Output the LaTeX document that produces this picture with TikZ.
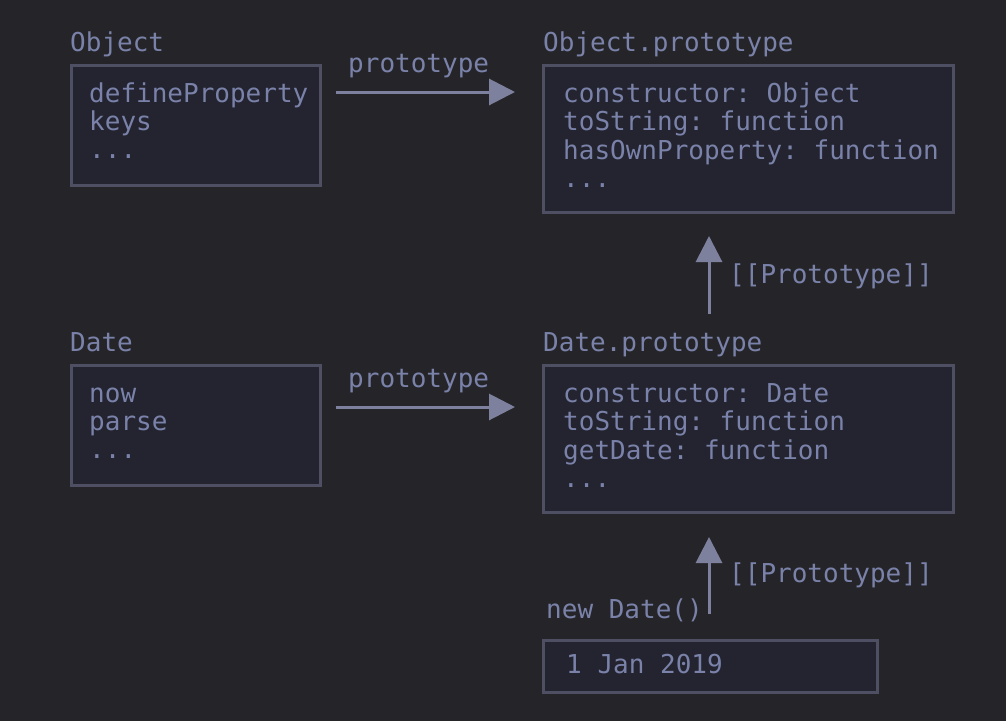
\documentclass[tikz,border=0pt]{standalone}
\usepackage{fontspec}
\setmonofont{DejaVu Sans Mono}
\usetikzlibrary{arrows.meta}
\definecolor{bg}{HTML}{252529}
\definecolor{boxfill}{HTML}{23242F}
\definecolor{boxline}{HTML}{4E4F63}
\definecolor{txt}{HTML}{7A82AA}
\definecolor{arrowc}{HTML}{7E819E}
\tikzset{
  box/.style={draw=boxline, fill=boxfill, line width=3pt, rectangle, anchor=north west, inner sep=0pt, outer sep=0pt},
  lbl/.style={anchor=base west, inner sep=0pt, text=txt, font=\fontsize{26}{28}\selectfont\ttfamily},
  arr/.style={draw=arrowc, line width=3pt, -{Triangle[length=26pt,width=26pt]}}
}
\begin{document}
\begin{tikzpicture}[x=1pt,y=-1pt]
\fill[bg] (0,0) rectangle (1006,721);
\useasboundingbox (0,0) rectangle (1006,721);
% boxes
\node[box, minimum width=249.5pt, minimum height=120pt] (obj) at (71,65.5) {};
\node[box, minimum width=410.5pt, minimum height=147pt] (op) at (543,65.5) {};
\node[box, minimum width=249.5pt, minimum height=120pt] (dt) at (71,365.5) {};
\node[box, minimum width=410.5pt, minimum height=147pt] (dp) at (543,365.5) {};
\node[box, minimum width=333.5pt, minimum height=52.5pt] (inst) at (543.5,640) {};
% titles
\node[lbl] (tObj) at (70,51) {Object};
\node[lbl] (tOp) at (543,51) {Object.prototype};
\node[lbl] (tDt) at (70,351) {Date};
\node[lbl] (tDp) at (543,351) {Date.prototype};
\node[lbl] (tNew) at (546,618) {new Date()};
% box contents
\node[lbl] (o1) at (89,102) {defineProperty};
\node[lbl] (o2) at (89,130) {keys};
\node[lbl] (o3) at (89,158) {...};
\node[lbl] (p1) at (563,102) {constructor: Object};
\node[lbl] (p2) at (563,130.5) {toString: function};
\node[lbl] (p3) at (563,159) {hasOwnProperty: function};
\node[lbl] (p4) at (563,187) {...};
\node[lbl] (d1) at (89,402) {now};
\node[lbl] (d2) at (89,430) {parse};
\node[lbl] (d3) at (89,458) {...};
\node[lbl] (q1) at (563,402) {constructor: Date};
\node[lbl] (q2) at (563,430.5) {toString: function};
\node[lbl] (q3) at (563,459) {getDate: function};
\node[lbl] (q4) at (563,487) {...};
\node[lbl] (i1) at (566,673) {1 Jan 2019};
% arrow labels
\node[lbl] (l1) at (348,72) {prototype};
\node[lbl] (l2) at (348,387) {prototype};
\node[lbl] (l3) at (729,283) {[[Prototype]]};
\node[lbl] (l4) at (729,582) {[[Prototype]]};
% arrows
\draw[arr] ([shift={(15,26.5)}]obj.north east) -- ([shift={(-28,26.5)}]op.north west);
\draw[arr] ([shift={(15,41.5)}]dt.north east) -- ([shift={(-28,41.5)}]dp.north west);
\draw[arr] ([shift={(166,-51.5)}]dp.north west) -- ([shift={(166,23.5)}]op.south west);
\draw[arr] ([shift={(165.5,-26)}]inst.north west) -- ([shift={(166,24.5)}]dp.south west);
\end{tikzpicture}
\end{document}
